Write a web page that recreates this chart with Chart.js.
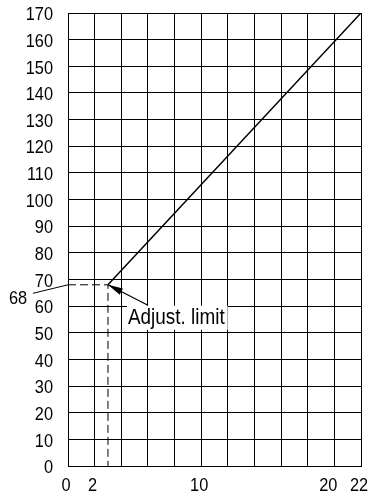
<!DOCTYPE html>
<html>
<head>
<meta charset="utf-8">
<script src="https://cdn.jsdelivr.net/npm/chart.js@4.4.1/dist/chart.umd.min.js"></script>
<style>
  html, body { margin: 0; padding: 0; background: #fff; }
  #chart { display: block; }
</style>
</head>
<body>
<canvas id="chart" width="372" height="500"></canvas>
<script>
// characteristic line
var lineX = [3, 22];
var lineY = [68, 170];

// adjustment limit point
var limitX = 3;
var limitY = 68;
var limitText = 'Adjust. limit';

// axes
var xLabels = [0, 2, 10, 20, 22];
var xMax = 22, xStep = 2;
var yMax = 170, yStep = 10;

var FONT = '"Liberation Sans", Arial, sans-serif';
var SQUEEZE = 0.86;   // narrow lettering

function points(xs, ys) {
    var out = [];
    for (var i = 0; i < xs.length; i++) out.push({x: xs[i], y: ys[i]});
    return out;
}

// draw condensed text at x,y
function narrowText(ctx, text, x, y, size, align, baseline) {
    ctx.save();
    ctx.font = size + 'px ' + FONT;
    ctx.textAlign = align;
    ctx.textBaseline = baseline;
    ctx.translate(x, y);
    ctx.scale(SQUEEZE, 1);
    ctx.fillText(text, 0, 0);
    ctx.restore();
    ctx.font = size + 'px ' + FONT;
    return ctx.measureText(text).width * SQUEEZE;
}

// tick labels, drawn from the scales' own ticks
var tickText = {
    id: 'tickText',
    afterDraw: function(chart) {
        var ctx = chart.ctx, area = chart.chartArea;
        var xs = chart.scales.x, ys = chart.scales.y;
        ctx.save();
        ctx.fillStyle = '#000';
        ys.ticks.forEach(function(t) {
            narrowText(ctx, String(t.value), area.left - 15, ys.getPixelForValue(t.value) + 2, 19, 'right', 'middle');
        });
        xs.ticks.forEach(function(t) {
            if (xLabels.indexOf(t.value) < 0) return;
            var nudge = t.value == 20 ? -6 : -2;
            narrowText(ctx, String(t.value), xs.getPixelForValue(t.value) + nudge, area.bottom + 20, 19, 'center', 'middle');
        });
        ctx.restore();
    }
};

var annotate = {
    id: 'annotate',
    afterDraw: function(chart) {
        var ctx = chart.ctx;
        var xs = chart.scales.x, ys = chart.scales.y;
        var px = xs.getPixelForValue(limitX);
        var py = ys.getPixelForValue(limitY);
        var x0 = xs.getPixelForValue(0);

        ctx.save();
        ctx.strokeStyle = '#000';
        ctx.fillStyle = '#000';

        // value label left of the axis with a leader line
        ctx.lineWidth = 1;
        ctx.beginPath();
        ctx.moveTo(x0 - 35, py + 8.5);
        ctx.lineTo(x0, py);
        ctx.stroke();
        narrowText(ctx, String(limitY), x0 - 50, py + 13.5, 19, 'center', 'middle');

        // text with a white box over the grid
        var tx = px + 20, tb = py + 39.5;
        ctx.font = '22px ' + FONT;
        var tw = ctx.measureText(limitText).width * SQUEEZE;
        ctx.fillStyle = '#fff';
        ctx.fillRect(tx - 1, py + 21, tw + 4, 24);
        ctx.fillStyle = '#000';
        narrowText(ctx, limitText, tx, tb, 22, 'left', 'alphabetic');

        // arrow from the text to the limit point
        var ax = px + 40, ay = py + 20.5;
        var ang = Math.atan2(py - ay, px - ax);
        ctx.lineWidth = 1.2;
        ctx.beginPath();
        ctx.moveTo(ax, ay);
        ctx.lineTo(px, py);
        ctx.stroke();
        var hl = 15, hw = 3.5;
        var bx = px - hl * Math.cos(ang), by = py - hl * Math.sin(ang);
        ctx.beginPath();
        ctx.moveTo(px, py);
        ctx.lineTo(bx + hw * Math.sin(ang), by - hw * Math.cos(ang));
        ctx.lineTo(bx - hw * Math.sin(ang), by + hw * Math.cos(ang));
        ctx.closePath();
        ctx.fill();
        ctx.restore();
    }
};

new Chart(document.getElementById('chart').getContext('2d'), {
    type: 'scatter',
    data: {
        datasets: [{
            data: points(lineX, lineY),
            showLine: true,
            borderColor: '#000',
            borderWidth: 1.5,
            pointRadius: 0
        }, {
            data: [{x: 0, y: limitY}, {x: limitX, y: limitY}, {x: limitX, y: 0}],
            showLine: true,
            borderColor: '#000',
            borderWidth: 1,
            borderDash: [8, 4],
            pointRadius: 0
        }]
    },
    options: {
        responsive: false,
        animation: false,
        events: [],
        layout: { padding: { top: 13, right: 11, bottom: 0, left: 0 } },
        plugins: { legend: { display: false }, tooltip: { enabled: false } },
        scales: {
            x: {
                type: 'linear',
                min: 0, max: xMax,
                border: { color: '#000', width: 1 },
                grid: { color: '#000', lineWidth: 1, drawTicks: false },
                ticks: { stepSize: xStep, autoSkip: false, display: false },
                afterFit: function(s) { s.height = 34; }
            },
            y: {
                min: 0, max: yMax,
                border: { color: '#000', width: 1 },
                grid: { color: '#000', lineWidth: 1, drawTicks: false },
                ticks: { stepSize: yStep, autoSkip: false, display: false },
                afterFit: function(s) { s.width = 68; }
            }
        }
    },
    plugins: [tickText, annotate]
});
</script>
</body>
</html>
